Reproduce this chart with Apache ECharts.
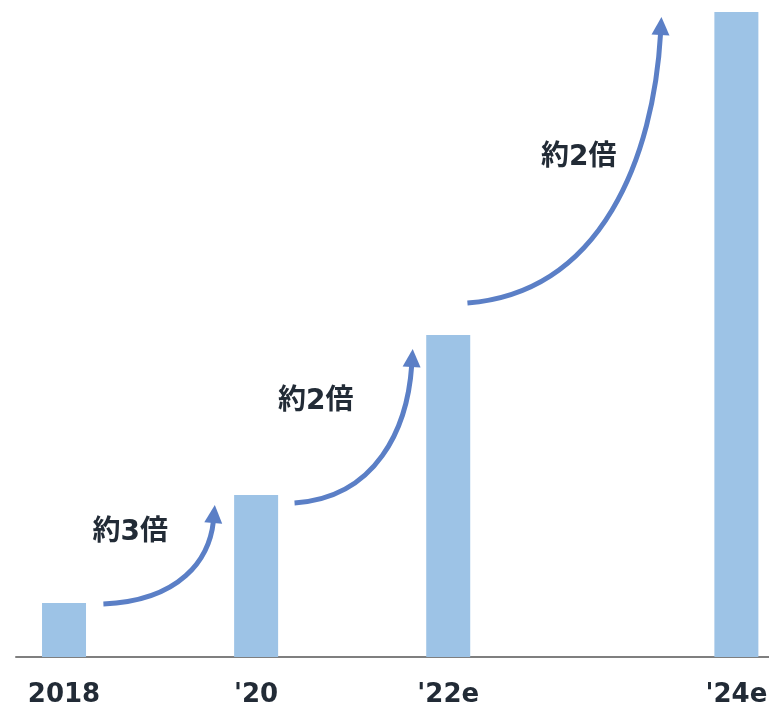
<!DOCTYPE html>
<html>
<head>
<meta charset="utf-8">
<script src="https://cdn.jsdelivr.net/npm/echarts@6/dist/echarts.min.js"></script>
<style>html,body{margin:0;padding:0;background:#fff}#c{width:769px;height:708px}</style>
</head>
<body>
<div id="c"></div>
<script>
// Category slots (blank slots keep the spacing of the original)
const categories = ['2018', '', "'20", '', "'22e", '', '', "'24e"];
const values = [54, '-', 162, '-', 322, '-', '-', 645];
// Growth arrows: [fromSlot, fromValue, toSlot, toValue]
const arrows = [
  [0.41, 53, 1.57, 152],
  [2.40, 154, 3.63, 308],
  [4.20, 354, 6.22, 640]
];
// Growth labels: [slot, value, text]
const growthLabels = [
  [0.69, 124, '約3倍'],
  [2.62, 255, '約2倍'],
  [5.36, 499, '約2倍']
];

const chart = echarts.init(document.getElementById('c'));
const arrowColor = '#5b7fc6';
const textColor = '#222b36';

function renderArrow(params, api) {
  const p0 = api.coord([api.value(0), api.value(1)]);
  const tip = api.coord([api.value(2), api.value(3)]);
  const headLen = 18, headHalf = 9;
  const dx = tip[0] - p0[0], dy = tip[1] - p0[1];
  const lean = 0.035 * dx;
  let dirx = lean, diry = -0.45 * (-dy);
  const dl = Math.hypot(dirx, diry);
  dirx /= dl; diry /= dl;
  const base = [tip[0] - dirx * headLen, tip[1] - diry * headLen];
  const bdx = base[0] - p0[0], bdy = base[1] - p0[1];
  const c1 = [p0[0] + 0.7 * bdx, p0[1] + 0.04 * bdy];
  const c2 = [base[0] - lean * (bdx / dx), base[1] - 0.45 * bdy];
  const px = -diry, py = dirx;
  return {
    type: 'group',
    children: [
      {
        type: 'bezierCurve',
        shape: { x1: p0[0], y1: p0[1], cpx1: c1[0], cpy1: c1[1], cpx2: c2[0], cpy2: c2[1], x2: base[0] + dirx * 2, y2: base[1] + diry * 2 },
        style: { stroke: arrowColor, lineWidth: 5, fill: null }
      },
      {
        type: 'polygon',
        shape: { points: [tip, [base[0] + px * headHalf, base[1] + py * headHalf], [base[0] - px * headHalf, base[1] - py * headHalf]] },
        style: { fill: arrowColor }
      }
    ]
  };
}

function renderLabel(params, api) {
  const p = api.coord([api.value(0), api.value(1)]);
  const txt = growthLabels[params.dataIndex][2];
  return {
    type: 'text',
    x: p[0], y: p[1],
    style: {
      text: txt,
      align: 'center', verticalAlign: 'middle',
      fill: textColor,
      font: 'bold 28px "DejaVu Sans", "Noto Sans CJK JP", sans-serif'
    }
  };
}

chart.setOption({
  animation: false,
  grid: { left: 16, width: 768.4, top: 7, bottom: 51, outerBoundsMode: 'none', containLabel: false },
  xAxis: [
    {
      type: 'category',
      data: categories,
      axisLine: { lineStyle: { color: '#7f7f7f', width: 2 } },
      axisTick: { show: false },
      axisLabel: {
        interval: 0,
        margin: 25,
        fontSize: 26,
        fontWeight: 'bold',
        color: textColor,
        fontFamily: '"DejaVu Sans", sans-serif'
      }
    },
    { type: 'value', min: -0.5, max: 7.5, show: false }
  ],
  yAxis: { type: 'value', min: 0, max: 650, show: false },
  series: [
    {
      type: 'bar',
      data: values,
      barWidth: 44,
      itemStyle: { color: '#9dc3e6' },
      z: 2
    },
    {
      type: 'custom',
      xAxisIndex: 1,
      data: arrows,
      renderItem: renderArrow,
      z: 3
    },
    {
      type: 'custom',
      xAxisIndex: 1,
      data: growthLabels.map(d => [d[0], d[1]]),
      renderItem: renderLabel,
      z: 4
    }
  ]
});
</script>
</body>
</html>
